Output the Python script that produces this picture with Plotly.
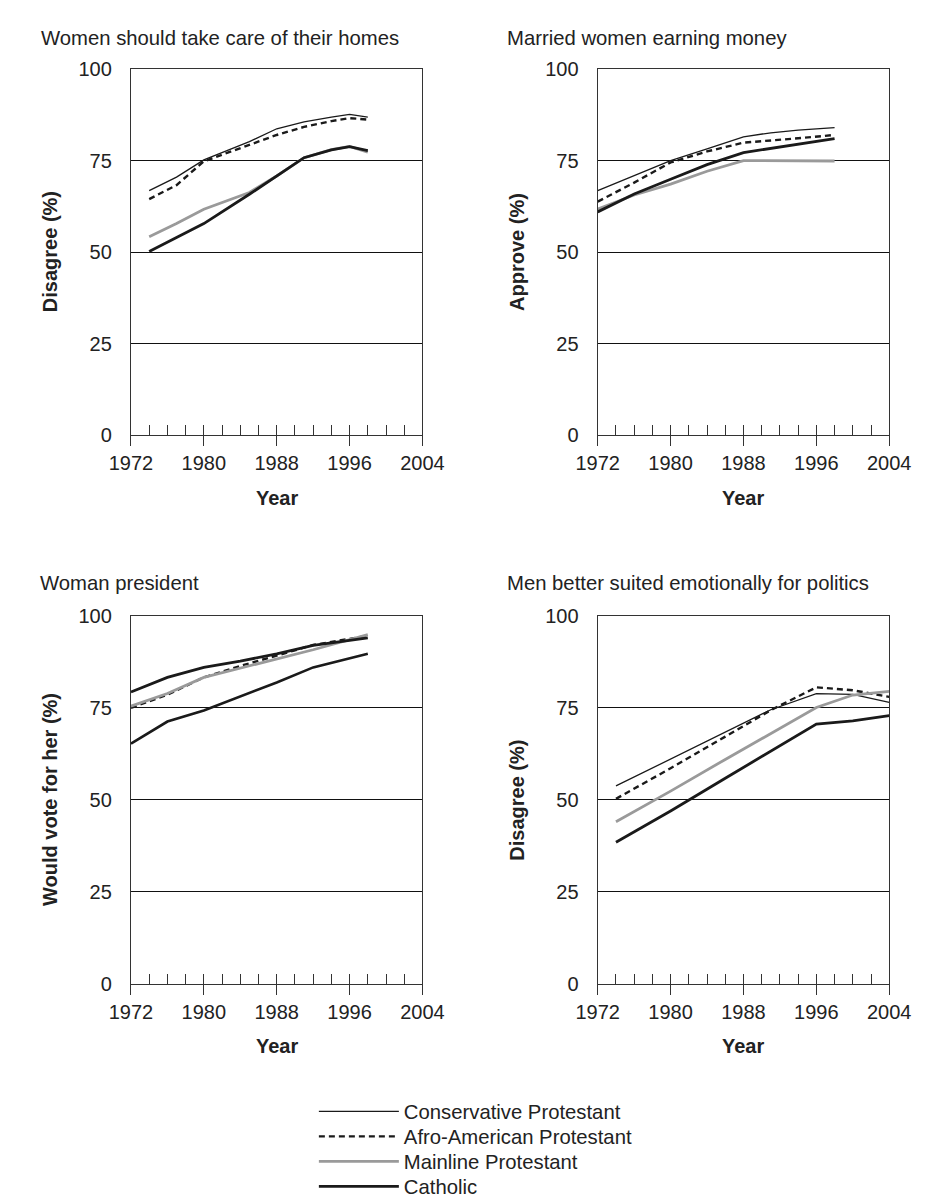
import plotly.graph_objects as go

W, H = 928, 1202
FONT = "Liberation Sans, Arial, Helvetica, sans-serif"
INK = "#222222"

series_names = ["Conservative Protestant", "Afro-American Protestant",
                "Mainline Protestant", "Catholic"]
panel_titles = ["Women should take care of their homes",
                "Married women earning money",
                "Woman president",
                "Men better suited emotionally for politics"]
y_titles = ["Disagree (%)", "Approve (%)", "Would vote for her (%)", "Disagree (%)"]
x_title = "Year"
x_ticks = [1972, 1980, 1988, 1996, 2004]
y_ticks = [0, 25, 50, 75, 100]

# Panel 1: Women should take care of their homes
homes_years = [1974, 1977, 1980, 1985, 1988, 1991, 1994, 1996, 1998]
homes_cons = [66.8, 70.5, 75.2, 80.2, 83.7, 85.6, 86.9, 87.6, 86.9]
homes_afro = [64.5, 68.3, 74.8, 79.2, 82.0, 84.2, 85.8, 86.6, 86.2]
homes_main = [54.2, 57.8, 61.7, 66.3, 70.8, 75.8, 78.0, 78.9, 77.3]
homes_cath = [50.2, 54.0, 57.8, 65.8, 70.8, 75.8, 77.9, 78.8, 77.7]

# Panel 2: Married women earning money
money_years = [1972, 1976, 1980, 1984, 1988, 1991, 1994, 1998]
money_cons = [66.8, 70.8, 75.0, 78.2, 81.5, 82.6, 83.3, 84.0]
money_afro = [63.8, 69.0, 74.5, 77.5, 79.9, 80.4, 81.1, 82.0]
money_main = [61.8, 65.6, 68.6, 72.1, 75.0, 75.0, 74.9, 74.9]
money_cath = [61.0, 65.9, 69.9, 73.9, 77.2, 78.4, 79.4, 81.0]

# Panel 3: Woman president
pres_years = [1972, 1976, 1980, 1984, 1988, 1992, 1998]
pres_cons = [65.3, 71.3, 74.3, 78.0, 81.9, 86.0, 89.7]
pres_afro = [75.0, 78.6, 83.3, 86.4, 89.2, 92.1, 94.6]
pres_main = [75.5, 78.9, 83.3, 85.8, 88.3, 90.8, 94.9]
pres_cath = [79.3, 83.3, 86.0, 87.7, 89.7, 92.0, 94.0]

# Panel 4: Men better suited emotionally for politics
pol_years = [1974, 1980, 1986, 1991, 1996, 2000, 2004]
pol_cons = [53.8, 61.1, 68.4, 74.5, 78.9, 78.7, 76.5]
pol_afro = [50.3, 58.6, 67.2, 74.4, 80.6, 79.8, 78.0]
pol_main = [44.1, 52.4, 61.0, 68.1, 75.1, 78.5, 79.5]
pol_cath = [38.5, 47.0, 55.9, 63.3, 70.6, 71.5, 72.9]

panels = [
    (homes_years, [homes_cons, homes_afro, homes_main, homes_cath]),
    (money_years, [money_cons, money_afro, money_main, money_cath]),
    (pres_years, [pres_cons, pres_afro, pres_main, pres_cath]),
    (pol_years, [pol_cons, pol_afro, pol_main, pol_cath]),
]

styles = [
    dict(color="#1a1a1a", width=1.3, dash="solid"),
    dict(color="#1a1a1a", width=2.4, dash="6px,4px"),
    dict(color="#9a9a9a", width=2.8, dash="solid"),
    dict(color="#1a1a1a", width=2.8, dash="solid"),
]
# in the "Woman president" panel the conservative line is printed heavier
cons_width_by_panel = [1.3, 1.3, 2.6, 1.3]

# panel pixel boxes: left, right, top, bottom
boxes = [(106, 412, 51, 424), (596, 902, 51, 424),
         (106, 412, 608, 983), (596, 902, 608, 983)]
title_pos = [(9, 19), (499, 19), (8, 575), (499, 575)]
year_title_y = [488, 1046]
legend_rows = [1113, 1138.5, 1164, 1189.5]
legend_ids = ["legend", "legend2", "legend3", "legend4"]

fig = go.Figure()

def px_x(v):
    return v / W

def px_y(v):
    return 1 - v / H

for i, (years, vals) in enumerate(panels):
    ax = "" if i == 0 else str(i + 1)
    for j, v in enumerate(vals):
        st = dict(styles[j])
        if j == 0:
            st["width"] = cons_width_by_panel[i]
        fig.add_trace(go.Scatter(
            x=years, y=v, mode="lines", name=series_names[j],
            line=st, xaxis="x" + ax, yaxis="y" + ax,
            showlegend=(i == 0), legend=legend_ids[j], hoverinfo="skip"))

    l, r, t, b = boxes[i]
    xdom = [px_x(l), px_x(r)]
    ydom = [px_y(b), px_y(t)]
    fig.layout["xaxis" + ax] = dict(
        domain=xdom, anchor="y" + ax, range=[1972, 2004],
        tickvals=x_ticks, ticks="outside", ticklen=10, tickwidth=1.3,
        tickcolor="#333", showline=True, linecolor="#333", linewidth=1.3,
        mirror=True, showgrid=False, zeroline=False,
        tickfont=dict(family=FONT, size=20, color=INK),
        minor=dict(ticks="inside", dtick=2, tick0=1972, ticklen=10,
                   tickwidth=1.3, tickcolor="#333", showgrid=False),
        fixedrange=True)
    fig.layout["yaxis" + ax] = dict(
        domain=ydom, anchor="x" + ax, range=[0, 100],
        tickvals=y_ticks, ticks="", showgrid=True, gridcolor="#111",
        gridwidth=1, showline=True, linecolor="#333", linewidth=1.3,
        mirror=True, zeroline=False, ticklabelstandoff=14,
        tickfont=dict(family=FONT, size=20, color=INK), fixedrange=True)
    # overlay axis for the upward part of the major ticks
    ox = "xaxis" + str(i + 5)
    fig.layout[ox] = dict(
        overlaying="x" + ax, anchor="y" + ax, range=[1972, 2004],
        tickvals=x_ticks, ticks="inside", ticklen=10, tickwidth=1.3,
        tickcolor="#333", showticklabels=False, showline=False,
        showgrid=False, zeroline=False, side="bottom", fixedrange=True)

    tx, ty = title_pos[i]
    fig.add_annotation(x=px_x(tx), y=px_y(ty), xref="paper", yref="paper",
                       text=panel_titles[i], showarrow=False,
                       xanchor="left", yanchor="middle",
                       font=dict(family=FONT, size=20.3, color=INK))
    fig.add_annotation(x=px_x(l - 85), y=px_y((t + b) / 2), xref="paper",
                       yref="paper", text="<b>" + y_titles[i] + "</b>",
                       textangle=-90, showarrow=False, xanchor="center",
                       yanchor="middle",
                       font=dict(family=FONT, size=20, color=INK))
    fig.add_annotation(x=px_x((l + r) / 2), y=px_y(year_title_y[i // 2]),
                       xref="paper", yref="paper", text="<b>" + x_title + "</b>",
                       showarrow=False, xanchor="center", yanchor="middle",
                       font=dict(family=FONT, size=20, color=INK))

layout_legends = {}
for j, lid in enumerate(legend_ids):
    layout_legends[lid] = dict(
        x=px_x(298), y=px_y(legend_rows[j]), xanchor="left", yanchor="middle",
        bgcolor="rgba(0,0,0,0)", itemwidth=80, borderwidth=0,
        font=dict(family=FONT, size=20.3, color=INK),
        itemclick=False, itemdoubleclick=False)

fig.update_layout(
    width=W, height=H, margin=dict(l=0, r=0, t=0, b=0),
    paper_bgcolor="white", plot_bgcolor="white",
    showlegend=True, **layout_legends)

fig.write_html("out.html")
